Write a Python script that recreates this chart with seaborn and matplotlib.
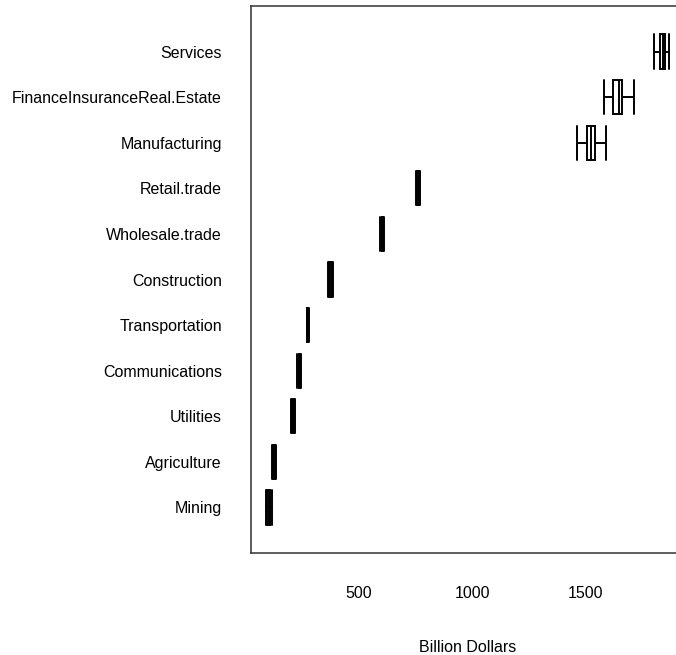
import matplotlib
matplotlib.use("Agg")
import matplotlib.pyplot as plt
import seaborn as sns
import pandas as pd

categories = ["Services", "FinanceInsuranceReal.Estate", "Manufacturing", "Retail.trade",
              "Wholesale.trade", "Construction", "Transportation", "Communications",
              "Utilities", "Agriculture", "Mining"]

# five observations per industry (min, lower quartile, median, upper quartile, max)
services = [1802, 1827, 1840, 1849, 1867]
finance = [1580, 1621, 1645, 1658, 1712]
manufacturing = [1460, 1504, 1525, 1541, 1588]
retail = [755, 760, 765, 768, 771]
wholesale = [597, 602, 605, 609, 614]
construction = [366, 371, 377, 384, 390]
transportation = [273, 276, 278, 280, 283]
communications = [232, 237, 240, 244, 249]
utilities = [205, 210, 214, 218, 223]
agriculture = [119, 124, 128, 133, 138]
mining = [94, 100, 105, 112, 119]

xticks = [500, 1000, 1500]
xlabel = "Billion Dollars"

series = [services, finance, manufacturing, retail, wholesale, construction,
          transportation, communications, utilities, agriculture, mining]
df = pd.DataFrame({
    "industry": [c for c, s in zip(categories, series) for _ in s],
    "value": [v for s in series for v in s],
})

sns.set_style("white")
plt.rcParams["font.family"] = ["Liberation Sans", "DejaVu Sans"]
plt.rcParams["text.color"] = "black"
plt.rcParams["xtick.color"] = "#333333"
plt.rcParams["xtick.labelcolor"] = "black"
plt.rcParams["ytick.labelcolor"] = "black"
plt.rcParams["axes.labelcolor"] = "black"

fig = plt.figure(figsize=(6.76, 6.55), dpi=100)
ax = fig.add_axes([251 / 676, 102 / 655, (690 - 251) / 676, (649 - 102) / 655])

sns.boxplot(data=df, x="value", y="industry", order=categories, orient="h",
            whis=(0, 100), width=0.75, color="white", linecolor="black",
            linewidth=1.4, fliersize=0, capwidths=0.75, ax=ax)

# axes right edge beyond the picture, as in the reference
px_per_unit = (585.7 - 358.3) / 1000
ax.set_xlim(28, 28 + (690 - 251) / px_per_unit)
ax.set_ylim(len(categories), -1)
ax.set_xticks(xticks)
ax.set_xticklabels([str(t) for t in xticks], fontsize=11.5)
ax.tick_params(axis="x", length=8.5, width=1.1, color="#333333", pad=15, direction="out")
ax.tick_params(axis="y", length=0, pad=21, labelsize=11.5)
ax.set_ylabel("")
ax.set_xlabel(xlabel, fontsize=11.5)
ax.xaxis.set_label_coords((467.5 - 251) / (690 - 251), -0.159)
ax.xaxis.label.set_va("top")

for side in ["left", "top", "bottom"]:
    ax.spines[side].set_visible(True)
    ax.spines[side].set_color("#333333")
    ax.spines[side].set_linewidth(1.1)
ax.spines["right"].set_visible(False)

fig.savefig("out.png", dpi=100, facecolor="white")
